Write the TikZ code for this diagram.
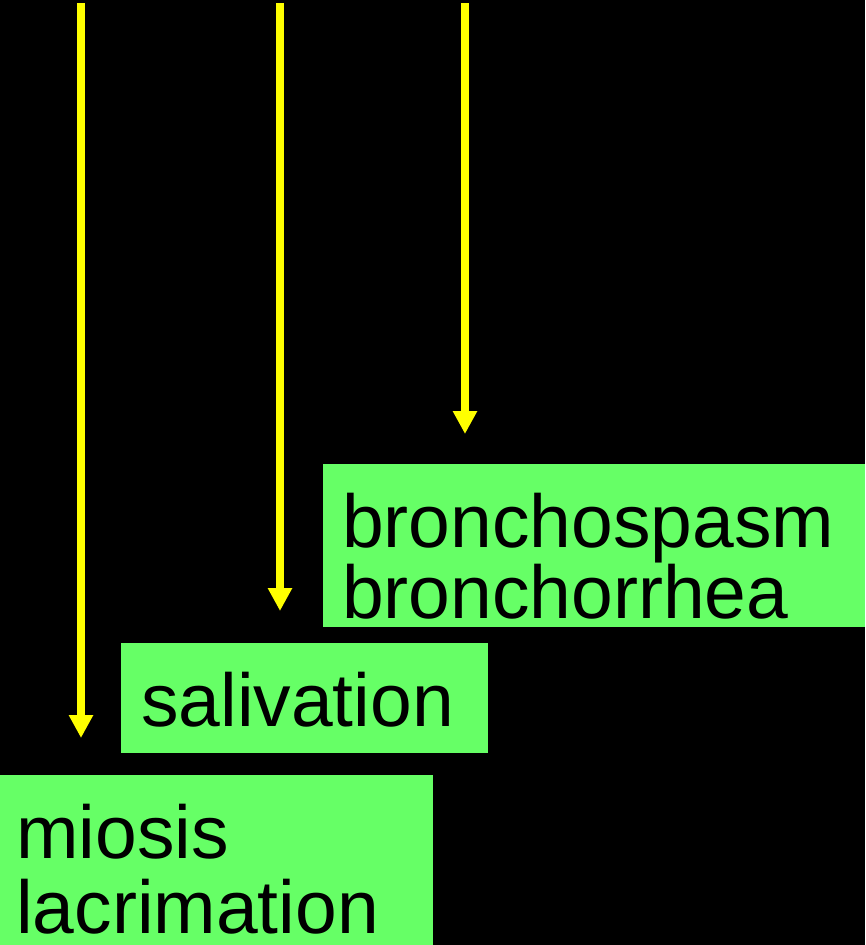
\documentclass[tikz,border=0pt]{standalone}
\usepackage{fontspec}
\setmainfont{Liberation Sans}
\usetikzlibrary{arrows.meta}
\definecolor{symgreen}{HTML}{66FF66}
\definecolor{feedyellow}{HTML}{FFFF00}
\setlength{\lineskiplimit}{-100pt}
\tikzset{
    symptom/.style={fill=symgreen, anchor=north west, align=left,
        inner ysep=0pt, text height=83pt},
    feed/.style={feedyellow, line width=7.5pt, -{Triangle[length=23pt, width=23pt]}}
}
\begin{document}
\begin{tikzpicture}[x=1pt, y=-1pt]
    % Background
    \fill[black] (0,0) rectangle (865,945);
    \useasboundingbox (0,0) rectangle (865,945);

    % Symptom boxes
    \node[symptom, text width=504pt, inner xsep=19pt, text depth=80pt,
        font=\fontsize{75}{66.5}\selectfont] (bron) at (323,464)
        {bronchospasm\\bronchorrhea};
    \node[symptom, text width=327pt, inner xsep=20pt, text depth=27pt,
        font=\fontsize{75}{75}\selectfont] (saliv) at (121,643)
        {salivation};
    \node[symptom, text width=401pt, inner xsep=16pt, text depth=87pt,
        font=\fontsize{75}{75}\selectfont] (lacr) at (0,775)
        {miosis\\lacrimation};

    % Arrows
    \foreach \x/\y/\n in {81/738/lacr, 280/611/saliv, 465/434/bron} {
        \coordinate (top-\n) at (\x,3);
        \coordinate (tip-\n) at (\x,\y);
        \draw[feed] (top-\n) -- (tip-\n);
    }
\end{tikzpicture}
\end{document}
